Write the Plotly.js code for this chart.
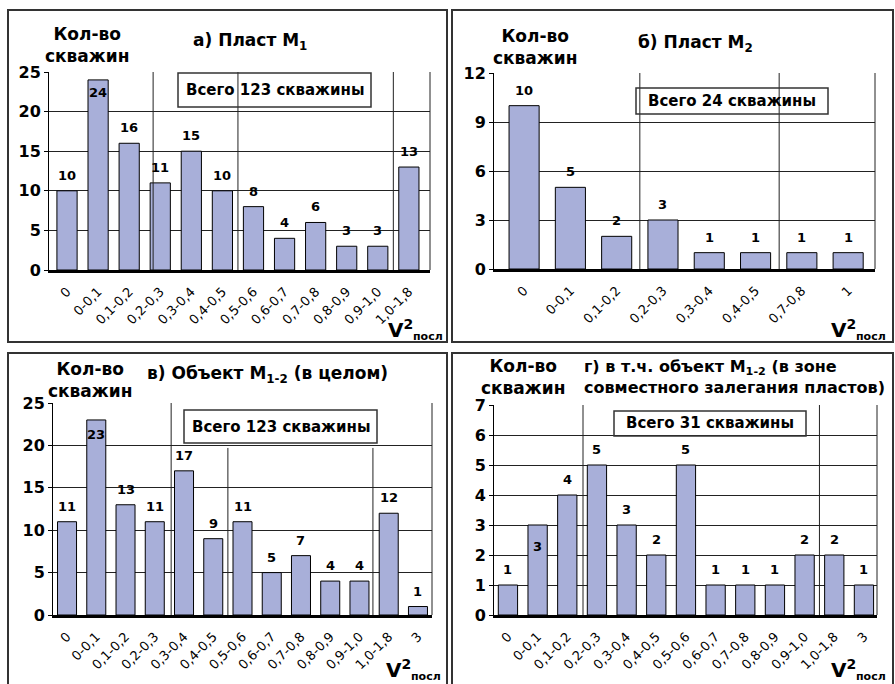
<!DOCTYPE html>
<html>
<head>
<meta charset="utf-8">
<script src="https://cdn.plot.ly/plotly-3.0.1.min.js"></script>
<style>html,body{margin:0;padding:0;background:#fff}#chart{width:895px;height:684px}</style>
</head>
<body>
<div id="chart"></div>
<script>
// ---- Data ----
const catsA = ['0','0-0,1','0,1-0,2','0,2-0,3','0,3-0,4','0,4-0,5','0,5-0,6','0,6-0,7','0,7-0,8','0,8-0,9','0,9-1,0','1,0-1,8'];
const valsA = [10,24,16,11,15,10,8,4,6,3,3,13];
const catsB = ['0','0-0,1','0,1-0,2','0,2-0,3','0,3-0,4','0,4-0,5','0,7-0,8','1'];
const valsB = [10,5,2,3,1,1,1,1];
const catsC = ['0','0-0,1','0,1-0,2','0,2-0,3','0,3-0,4','0,4-0,5','0,5-0,6','0,6-0,7','0,7-0,8','0,8-0,9','0,9-1,0','1,0-1,8','3'];
const valsC = [11,23,13,11,17,9,11,5,7,4,4,12,1];
const catsD = ['0','0-0,1','0,1-0,2','0,2-0,3','0,3-0,4','0,4-0,5','0,5-0,6','0,6-0,7','0,7-0,8','0,8-0,9','0,9-1,0','1,0-1,8','3'];
const valsD = [1,3,4,5,3,2,5,1,1,1,2,2,1];
const titles = ['а) Пласт M<sub>1</sub>','б) Пласт M<sub>2</sub>','в) Объект M<sub>1-2</sub> (в целом)','г) в т.ч. объект M<sub>1-2</sub> (в зоне<br>совместного залегания пластов)'];
const totals = ['Всего 123 скважины','Всего 24 скважины','Всего 123 скважины','Всего 31 скважины'];
const yLabel = 'Кол-во<br>скважин';

// ---- Layout helpers ----
const W = 895, H = 684;
const px = v => v / W;
const py = v => 1 - v / H;
const FONT = 'DejaVu Sans';
const BAR = '#a8afd9';

const panels = [
  {cats: catsA, vals: valsA, xd:[49,430], yd:[72,270], xr:[-0.58,11.68], yr:[0,25], dt:5, inside:[1], inShift:-3,
   vlines:[[2.77,null],[5.5,null],[10.5,null]],
   frame:[8,10,447,342], ylab:[87,45], title:[250,41,'center',17], box:[178,73,371,107], vpos:[400,329]},
  {cats: catsB, vals: valsB, xd:[494,875], yd:[73,269], xr:[-0.65,7.58], yr:[0,12], dt:3, inside:[], inShift:0,
   vlines:[[2.5,null],[5.51,null]],
   frame:[452,10,893,342], ylab:[535,47], title:[695,43,'center',17], box:[636,88,828,114], vpos:[843,329]},
  {cats: catsC, vals: valsC, xd:[53,432], yd:[403,615], xr:[-0.48,12.48], yr:[0,25], dt:5, inside:[1], inShift:-5,
   vlines:[[3.56,null],[5.5,19.7],[10.46,19.7]],
   frame:[8,353,447,690], ylab:[90,380], title:[267,374,'center',17], box:[184,410,377,443], vpos:[398,669]},
  {cats: catsD, vals: valsD, xd:[494,877], yd:[405,615], xr:[-0.47,12.44], yr:[0,7], dt:1, inside:[1], inShift:-12,
   vlines:[[2.53,null],[10.5,null]],
   frame:[452,353,893,690], ylab:[523,377], title:[582,377,'left',16], box:[614,411,806,436], vpos:[843,669]}
];

const data = [];
const layout = {
  width: W, height: H,
  margin: {l:0, r:0, t:0, b:0},
  paper_bgcolor: '#fff', plot_bgcolor: 'rgba(0,0,0,0)',
  showlegend: false,
  font: {family: FONT, color: '#000'},
  shapes: [], annotations: []
};

panels.forEach((p, i) => {
  const n = i === 0 ? '' : String(i + 1);
  const xa = 'x' + n, ya = 'y' + n;
  data.push({
    type: 'bar', x: p.cats, y: p.vals, xaxis: xa, yaxis: ya,
    width: 0.65,
    marker: {color: BAR, line: {color: '#000', width: 1}},
    hoverinfo: 'x+y'
  });
  layout['xaxis' + n] = {
    domain: [px(p.xd[0]), px(p.xd[1])], anchor: ya, type: 'category',
    range: p.xr, showgrid: false, zeroline: false,
    showline: true, linecolor: '#000', linewidth: 3,
    ticks: '', tickangle: -45, ticklabelstandoff: 6,
    tickfont: {family: FONT, size: 13, color: '#000'}
  };
  layout['yaxis' + n] = {
    domain: [py(p.yd[1]), py(p.yd[0])], anchor: xa,
    range: p.yr, dtick: p.dt, tick0: 0,
    showgrid: true, gridcolor: '#222', gridwidth: 1, zeroline: false,
    showline: true, linecolor: '#000', linewidth: 1,
    ticks: 'outside', ticklen: 4, tickcolor: '#000',
    tickfont: {family: FONT, size: 16, color: '#000', weight: 'bold'}
  };
  // vertical lines
  p.vlines.forEach(v => {
    layout.shapes.push({type:'line', xref: xa, yref: ya, x0: v[0], x1: v[0],
      y0: v[1] === null ? -p.yr[1]*0.03 : v[1], y1: v[1] === null ? p.yr[1] : 0,
      line:{color:'#222', width:1}});
  });
  layout.shapes.push({type:'line', xref: xa + ' domain', yref: ya, x0: 1, x1: 1,
    y0: -p.yr[1]*0.03, y1: p.yr[1], line:{color:'#222', width:1}});
  // frame
  layout.shapes.push({type:'rect', xref:'paper', yref:'paper',
    x0: px(p.frame[0]), x1: px(p.frame[2]), y0: py(p.frame[3]), y1: py(p.frame[1]),
    line:{color:'#333', width:2}});
  // total box
  layout.shapes.push({type:'rect', xref:'paper', yref:'paper',
    x0: px(p.box[0]), x1: px(p.box[2]), y0: py(p.box[3]), y1: py(p.box[1]),
    line:{color:'#333', width:1.5}});
  layout.annotations.push({xref:'paper', yref:'paper', x: px((p.box[0]+p.box[2])/2), y: py((p.box[1]+p.box[3])/2),
    text: '<b>' + totals[i] + '</b>', showarrow:false, xanchor:'center', yanchor:'middle',
    font:{family: FONT, size: 15, color:'#000'}});
  // y label
  layout.annotations.push({xref:'paper', yref:'paper', x: px(p.ylab[0]), y: py(p.ylab[1]),
    text: '<b>' + yLabel + '</b>', showarrow:false, xanchor:'center', yanchor:'middle',
    font:{family: FONT, size: 17, color:'#000'}});
  // title
  layout.annotations.push({xref:'paper', yref:'paper', x: px(p.title[0]), y: py(p.title[1]),
    text: '<b>' + titles[i] + '</b>', showarrow:false, xanchor: p.title[2], yanchor:'middle', align:'left',
    font:{family: FONT, size: p.title[3], color:'#000'}});
  // V2 posl
  layout.annotations.push({xref:'paper', yref:'paper', x: px(p.vpos[0]), y: py(p.vpos[1]),
    text: '<b>V<sup>2</sup></b>', showarrow:false, xanchor:'center', yanchor:'middle',
    font:{family: FONT, size: 20, color:'#000'}});
  layout.annotations.push({xref:'paper', yref:'paper', x: px(p.vpos[0]+28), y: py(p.vpos[1]+7),
    text: '<b>посл</b>', showarrow:false, xanchor:'center', yanchor:'middle',
    font:{family: FONT, size: 11, color:'#000'}});
  // value labels
  p.vals.forEach((v, k) => {
    const ins = p.inside.indexOf(k) >= 0;
    layout.annotations.push({xref: xa, yref: ya, x: k, y: v,
      text: '<b>' + v + '</b>', showarrow:false, xanchor:'center',
      yanchor: ins ? 'top' : 'bottom', yshift: ins ? p.inShift : 6,
      font:{family: FONT, size: 13, color:'#000'}});
  });
});

Plotly.newPlot('chart', data, layout, {displayModeBar:false, staticPlot:true});
</script>
</body>
</html>
